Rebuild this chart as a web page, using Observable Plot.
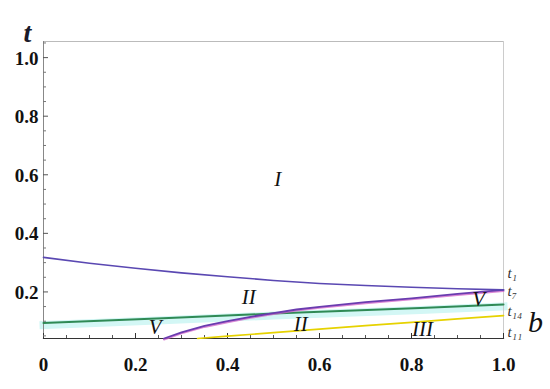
<!DOCTYPE html>
<html>
<head>
<meta charset="utf-8">
<script src="https://cdn.jsdelivr.net/npm/d3@7"></script>
<script src="https://cdn.jsdelivr.net/npm/@observablehq/plot@0.6"></script>
<style>
  html, body { margin: 0; padding: 0; background: #fff; }
  #chart svg { display: block; }
  #chart svg text { font-family: "Liberation Serif", "Times New Roman", "DejaVu Serif", serif !important; }
</style>
</head>
<body>
<div id="chart"></div>
<script>
// ---- data ----
const b1 = [0, 0.1, 0.2, 0.3, 0.4, 0.5, 0.6, 0.7, 0.8, 0.9, 1.0];
const t1 = [0.318, 0.298, 0.281, 0.265, 0.252, 0.239, 0.229, 0.222, 0.216, 0.211, 0.207];

const b7 = [0.262, 0.3, 0.35, 0.4, 0.45, 0.5, 0.55, 0.6, 0.7, 0.8, 0.9, 1.0];
const t7 = [0.041, 0.062, 0.084, 0.1, 0.115, 0.128, 0.14, 0.149, 0.165, 0.178, 0.193, 0.207];

const b14 = [0, 0.26, 0.5, 0.82, 1.0];
const t14 = [0.094, 0.11, 0.126, 0.145, 0.157];

const b11 = [0.335, 0.4, 0.5, 0.6, 0.7, 0.8, 0.9, 1.0];
const t11 = [0.041, 0.049, 0.061, 0.073, 0.085, 0.096, 0.108, 0.119];

const xTicks = [0, 0.2, 0.4, 0.6, 0.8, 1.0];
const xTickLabels = ["0", "0.2", "0.4", "0.6", "0.8", "1.0"];
const xMinor = [0.05, 0.1, 0.15, 0.25, 0.3, 0.35, 0.45, 0.5, 0.55, 0.65, 0.7, 0.75, 0.85, 0.9, 0.95];
const yTicks = [0.2, 0.4, 0.6, 0.8, 1.0];
const yTickLabels = ["0.2", "0.4", "0.6", "0.8", "1.0"];
const yMinor = [0.05, 0.1, 0.15, 0.25, 0.3, 0.35, 0.45, 0.5, 0.55, 0.65, 0.7, 0.75, 0.85, 0.9, 0.95, 1.05];

const regionNames = ["I", "II", "II", "III", "V", "V"];
const regionB = [0.509, 0.446, 0.559, 0.824, 0.243, 0.946];
const regionT = [0.586, 0.183, 0.091, 0.074, 0.08, 0.176];

const curveNames = ["t\u2081", "t\u2087", "t\u2081\u2084", "t\u2081\u2081"];

const xLabel = "b";
const yLabel = "t";

// ---- build ----
const zip = (bs, ts) => bs.map((b, i) => ({b, t: ts[i]}));
const L1 = zip(b1, t1), L7 = zip(b7, t7), L14 = zip(b14, t14), L11 = zip(b11, t11);
const regions = regionNames.map((n, i) => ({n, b: regionB[i], t: regionT[i]}));
const endT = [t1, t7, t14, t11].map(a => a[a.length - 1]);
const endDy = [-17, 1, 7, 17];
const ends = curveNames.map((n, i) => ({n, t: endT[i], dy: endDy[i]}));

const W = 550, H = 389;
const mL = 43, mR = 47, mT = 41, mB = 51;
const fw = W - mL - mR, fh = H - mT - mB;
const serif = "Liberation Serif, Times New Roman, DejaVu Serif, serif";

const chart = Plot.plot({
  width: W, height: H,
  marginLeft: mL, marginRight: mR, marginTop: mT, marginBottom: mB,
  style: {background: "#fff", overflow: "visible"},
  x: {domain: [0, 1.0], axis: null},
  y: {domain: [0.041, 1.055], axis: null},
  marks: [
    // cyan band along t14
    Plot.line(L14, {x: "b", y: "t", stroke: "#d3f7f5", strokeWidth: 8, strokeLinecap: "square", dy: 2}),
    // frame
    Plot.frame({anchor: "top", stroke: "#bbb"}),
    Plot.frame({anchor: "right", stroke: "#ccc"}),
    Plot.frame({anchor: "left", stroke: "#888"}),
    Plot.frame({anchor: "bottom", stroke: "#333", strokeWidth: 1.2}),
    // ticks (inside)
    Plot.ruleX(xTicks, {x: d => d, insetTop: fh - 5, stroke: "#333"}),
    Plot.ruleX(xMinor, {x: d => d, insetTop: fh - 3, stroke: "#555"}),
    Plot.ruleY(yTicks, {y: d => d, insetRight: fw - 5, stroke: "#555"}),
    Plot.ruleY(yMinor, {y: d => d, insetRight: fw - 3, stroke: "#777"}),
    // tick labels
    Plot.text(xTicks, {x: d => d, text: (d, i) => xTickLabels[i], frameAnchor: "bottom", dy: 32,
      fontFamily: serif, fontSize: 19, fontWeight: "bold", fill: "#111"}),
    Plot.text(yTicks, {y: d => d, text: (d, i) => yTickLabels[i], frameAnchor: "left", dx: -5, dy: 1,
      textAnchor: "end", fontFamily: serif, fontSize: 19, fontWeight: "bold", fill: "#111"}),
    // curves
    Plot.line(L11, {x: "b", y: "t", stroke: "#e6d200", strokeWidth: 1.6}),
    Plot.line(L14, {x: "b", y: "t", stroke: "#2f8a55", strokeWidth: 2}),
    Plot.line(L7, {x: "b", y: "t", stroke: "#d060c8", strokeOpacity: 0.75, strokeWidth: 2, dy: 1}),
    Plot.line(L7, {x: "b", y: "t", stroke: "#6a3caf", strokeWidth: 1.8}),
    Plot.line(L1, {x: "b", y: "t", stroke: "#5a48b2", strokeWidth: 1.6}),
    // region labels
    Plot.text(regions, {x: "b", y: "t", text: "n", fontFamily: serif, fontSize: 21, fontStyle: "italic", fill: "#111"}),
    // curve end labels
    ...ends.map(e => Plot.text([e], {x: () => 1.0, y: "t", text: "n", textAnchor: "start", dx: 4, dy: e.dy,
      fontFamily: serif, fontSize: 15, fontStyle: "italic", fill: "#333"})),
    // axis labels
    Plot.text([xLabel], {frameAnchor: "bottom-right", text: d => d, dx: 32, dy: -7, textAnchor: "middle",
      fontFamily: serif, fontSize: 30, fontStyle: "italic", fill: "#111"}),
    Plot.text([yLabel], {frameAnchor: "top-left", text: d => d, dx: -16, dy: -19, textAnchor: "middle",
      fontFamily: serif, fontSize: 28, fontStyle: "italic", fontWeight: "bold", fill: "#1a1a2a"})
  ]
});
document.getElementById("chart").appendChild(chart);
</script>
</body>
</html>
